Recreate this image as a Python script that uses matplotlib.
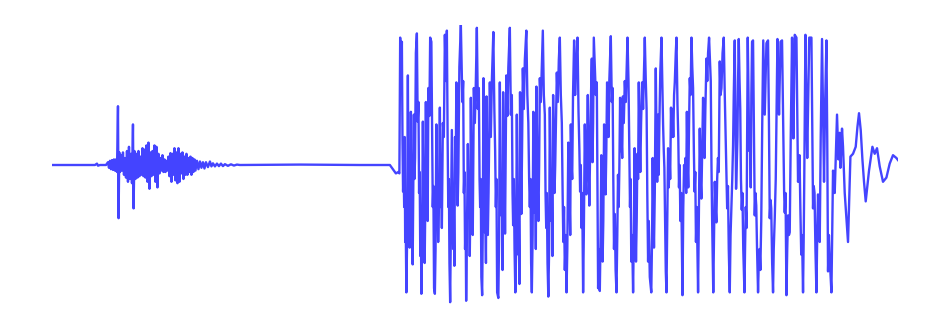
import numpy as np
import matplotlib
matplotlib.use("Agg")
import matplotlib.pyplot as plt

# ---- data (time in arbitrary ticks, amplitude normalised) ----
quiet_t = [52, 95, 97, 98, 100, 106]
quiet_v = [0.0, 0.0, 0.01, -0.005, 0.0, 0.0]

quake_t = [108, 109, 110, 111, 112, 113, 114, 115, 116, 117, 118, 118.6, 119.3, 120, 121, 122, 123, 124, 125,
           126, 127, 128, 129, 130, 131, 132, 133, 133.6, 134.5, 135.5, 136.5, 137.5, 138.5, 139.5, 140.5,
           141.5, 142.5, 143.5, 144.5, 145.5, 146.5, 147.5, 148.5, 149.5, 150.5, 151.5, 152.5, 153.5, 154.5,
           155.5, 156.5, 157.5, 158.5, 159.5, 160.5, 161.5, 162.5, 163.5, 164.5, 165.5, 166.5, 167.5, 168.5,
           169.5, 170.5, 171.5, 172.5, 173.5, 174.5, 175.5, 176.5, 177.5, 178.5, 179.5, 180.5, 181.5, 182.5,
           183.5, 184.5, 185.5, 186.5, 187.5, 188.5, 189.5, 190.5, 191.5, 192.5, 193.5, 194.5, 195.5, 197,
           198.5, 200, 201.5, 203, 204.5, 206, 208, 210, 211.5, 213, 215, 217, 219, 221, 223, 225, 228, 231,
           234, 237, 240, 300, 360, 390]
quake_v = [0.02, -0.02, 0.03, -0.03, 0.035, -0.035, 0.04, -0.04, 0.04, -0.05, 0.42, -0.38, 0.09, -0.05, 0.07,
           -0.04, 0.09, -0.07, 0.05, -0.09, 0.1, -0.12, 0.13, -0.1, 0.08, -0.13, 0.29, -0.31, 0.1, -0.1, 0.08,
           -0.09, 0.1, -0.08, 0.06, -0.07, 0.12, -0.08, 0.11, -0.09, 0.14, -0.12, 0.16, -0.17, 0.09, -0.08,
           0.1, -0.07, 0.14, -0.12, 0.13, -0.16, 0.08, -0.06, 0.05, -0.04, 0.07, -0.05, 0.04, -0.05, 0.03,
           -0.04, 0.06, -0.08, 0.085, -0.12, 0.08, -0.07, 0.12, -0.11, 0.09, -0.13, 0.12, -0.12, 0.08, -0.06,
           0.09, -0.1, 0.06, -0.07, 0.08, -0.07, 0.05, -0.05, 0.06, -0.07, 0.05, -0.05, 0.04, -0.04, 0.03,
           -0.03, 0.025, -0.02, 0.02, -0.025, 0.02, -0.015, 0.025, -0.01, 0.012, -0.01, 0.01, -0.008, 0.01,
           -0.008, 0.006, -0.006, 0.005, -0.004, 0.003, 0.0, 0.003, 0.0, 0.0]

dense_t = [
    393, 396, 398.5, 399.5, 400.3, 401.3, 402, 402.6, 403.2, 403.8, 404.3, 404.8, 405.3, 405.8, 406.5,
    407.2, 408, 408.6, 409.2, 409.8, 410.4, 411, 411.6, 412.2, 412.8, 413.4, 414, 414.6, 415.2, 416, 417, 417.8, 418.6, 419.2, 419.8, 420.4, 421, 421.5,
    422.2, 423, 423.6, 424.2, 424.8, 425.4, 426, 426.6, 427.2, 427.8, 428.5, 429.5, 430.3, 431.5, 432.3, 432.9, 433.5, 434.2, 435,
    435.7, 436.5, 437.1, 437.7, 438.3, 439, 440, 440.7, 441.4, 442, 443, 444, 445, 446, 447, 447.8, 448.4, 449, 449.6, 450.3,
    451, 452, 452.7, 453.3, 453.9, 454.5, 455.2, 455.8, 456.5, 457.2, 457.8, 458.5, 459.5, 461, 462.5, 463.3, 464, 464.6, 465.2, 465.8, 466.3,
    467, 468, 468.7, 469.3, 469.9, 470.5, 471, 471.7, 472.3, 472.9, 474, 475, 476, 477, 478, 479, 479.7, 480.3, 480.9, 481.5, 482.3,
    483, 483.6, 484.3, 484.9, 485.5, 486.1, 486.7, 487.4, 488, 488.7, 490, 491, 492, 493.5, 494.5, 495.3, 496, 496.6, 497.3, 498.5,
    499.3, 500, 500.7, 501.4, 502, 502.7, 503.3, 504, 504.6, 505.2, 506.5, 507.5, 508.5, 510, 511, 512, 512.7, 513.3, 514, 514.7, 515.5,
    516.3, 517, 517.7, 518.4, 519, 519.6, 520.2, 520.9, 521.5, 522.2, 523, 524, 525, 526.5, 527.5, 528.5, 529.3, 530, 530.7, 531.3, 532,
    532.8, 533.5, 534.2, 534.8, 535.5, 536, 536.6, 537.3, 538, 538.6, 539.3, 540, 541, 542, 543, 544, 545, 545.7, 546.4, 547, 547.7, 548.5,
    549.3, 550, 550.7, 551.4, 552, 552.6, 553.3, 554, 554.7, 555.4, 557, 558, 559, 560, 561, 562, 562.8, 563.5, 564.2, 565, 566, 566.7,
    567.5, 568.5, 569.2, 569.8, 570.4, 571, 571.7, 572.4, 573.2, 574.3, 575.3, 576.3, 577.7, 578.7, 579.6, 580.3, 581, 581.7, 582.4, 583.3,
    584, 585, 585.8, 586.5, 587.2, 588, 588.8, 589.5, 590.3, 591.2, 592, 592.7, 593.3, 594, 595, 596, 597, 597.7, 598.3, 599, 600,
    600.8, 601.5, 602.2, 602.8, 603.5, 604.3, 605, 605.8, 606.5, 607.3, 608, 608.8, 609.5, 611, 612, 612.8, 613.5, 614.2, 615, 615.8, 616.7,
    617.5, 618.2, 618.9, 619.6, 620.3, 621, 621.7, 622.4, 623.1, 624, 625, 626, 627.7, 628.7, 629.5, 630.2, 630.8, 631.5, 632.3, 633.3,
    634, 634.8, 635.5, 636.2, 636.9, 637.6, 638.3, 639, 639.8, 640.5, 641.3, 642.3, 643.3, 645, 646, 646.8, 647.5, 648.3, 649, 650, 651.5,
    652.3, 652.9, 653.5, 654.2, 655, 656, 656.7, 657.4, 658.2, 658.9, 659.6, 660.5, 661.7, 662.5, 663.3, 664, 664.6, 665.3, 666, 666.7,
    667.5, 668.3, 669, 669.7, 670.4, 671.2, 672, 672.7, 673.5, 674.3, 675, 676, 676.7, 677.7, 678.5, 679.2, 679.9, 680.6, 681.5, 682.7,
    683.5, 684.3, 685, 685.7, 686.4, 687.1, 687.8, 688.5, 689.3, 690, 690.8, 691.7, 692.5, 693.3, 694.1, 694.8, 695.5, 696.2, 697, 698.3,
    699, 700, 700.8, 701.6, 702.4, 703.3, 704, 704.8, 705.6, 706.7, 707.5, 708.3, 709.3, 710.2, 711, 711.7, 712.4, 713.5,
    714.3, 715, 715.8, 716.6, 717.4, 718.2, 719, 720, 720.8, 721.7, 722.8, 724, 725, 726, 726.7, 727.4, 728.2, 729, 730,
    730.8, 731.7, 732.5, 733.3, 734, 735, 735.7, 736.3, 737, 737.7, 738.3, 739, 739.8, 740.5, 741.2, 742, 742.7, 743.5, 744.7,
    745.3, 746, 746.8, 748, 748.8, 749.5, 750.2, 751, 751.6, 752.3, 753.3, 754.2, 755, 755.7, 756.5, 757.3, 758.3,
    759, 759.8, 760.6, 761.5, 762.5, 763.5, 764.3, 765, 765.8, 766.7, 768.3, 769.2, 770, 770.8, 771.5, 772.4, 773.3,
    774, 775, 776, 777.7, 778.5, 779.3, 780, 780.8, 782.3, 783, 783.7, 784.4, 785, 785.8, 786.7,
    787.5, 788.3, 789.2, 790, 791, 792.3, 793, 793.7, 794.4, 795, 796.7, 797.5, 798.3, 799, 799.8, 800.6, 801.5, 802.3, 803.3,
    804, 804.5, 805.7, 806.5, 807.5, 808.5, 809.5, 811.7, 812.5, 813.3, 814, 814.8, 815.7, 816.7,
    817.5, 818.3, 819.2, 820, 821, 822.3, 823.3, 824.3, 825.3, 826.7, 827.5, 828.3, 829.2, 830, 831.7]
dense_v = [
    -0.03, -0.06, -0.05, -0.06, 0.91, 0.55, 0.88, 0.2, -0.19, -0.05, -0.3, 0.2, -0.55, -0.4, -0.91,
    -0.55, 0.64, -0.25, -0.1, -0.59, -0.3, 0.38, -0.2, -0.05, -0.71, -0.2, 0.36, -0.1, 0.05, 0.8, 0.94, 0.31, 0.45, -0.2, -0.05, -0.65, -0.4, -0.92,
    -0.5, 0.31, -0.2, -0.05, -0.7, -0.3, 0.45, -0.1, 0.1, -0.4, 0.55, 0.35, 0.91, 0.88, 0.2, -0.3, -0.15, -0.88, -0.92,
    -0.6, 0.29, -0.25, -0.1, -0.55, -0.3, 0.41, -0.3, -0.1, -0.45, 0.3, 0.2, 0.93, 0.6, 0.96, 0.16, -0.3, -0.1, -0.7, -0.98,
    -0.5, 0.25, -0.2, -0.6, -0.3, -0.72, 0.2, -0.1, 0.59, -0.1, -0.29, -0.05, 0.7, 1.0, 0.45, 0.6, -0.2, -0.05, -0.6, -0.4, -0.97,
    -0.55, 0.15, -0.3, -0.1, -0.65, -0.3, 0.48, -0.2, 0.0, -0.5, 0.55, 0.3, 0.6, 0.98, 0.4, 0.55, -0.1, -0.3, -0.1, -0.8, -0.93,
    -0.4, 0.62, -0.2, -0.48, -0.3, -0.7, 0.49, -0.1, -0.5, -0.2, 0.59, 0.2, 0.6, 0.95, 0.4, 0.1, -0.3, -0.1, -0.91, -0.95,
    -0.5, 0.59, -0.1, -0.36, -0.1, -0.75, 0.52, -0.1, 0.0, -0.49, 0.64, 0.35, 0.7, 0.98, 0.36, 0.5, -0.2, -0.43, -0.1, -0.6, -0.91,
    -0.6, 0.36, -0.3, -0.64, -0.4, -0.85, 0.52, 0.0, -0.35, 0.1, 0.69, 0.4, 0.75, 0.96, 0.5, 0.3, -0.1, -0.3, -0.1, -0.7, -0.91,
    -0.5, 0.38, -0.1, -0.34, -0.1, -0.6, 0.56, 0.1, -0.2, -0.4, 0.0, 0.62, 0.45, 0.7, 0.96, 0.5, 0.36, -0.2, -0.45, -0.2, -0.7, -0.94,
    -0.6, 0.41, -0.1, -0.4, -0.2, -0.65, 0.5, 0.1, -0.2, 0.0, 0.66, 0.45, 0.75, 0.91, 0.5, 0.3, -0.2, -0.55, -0.3, -0.75, -0.5, -0.91,
    -0.6, 0.16, -0.1, -0.26, -0.5, 0.29, 0.0, -0.1, 0.5, 0.89, 0.5, 0.7, 0.91, 0.38, 0.1, -0.19, 0.0, -0.45, -0.2, -0.91,
    -0.5, 0.29, -0.1, -0.21, 0.1, 0.5, 0.0, -0.29, 0.1, 0.5, 0.76, 0.02, 0.3, 0.91, 0.7, 0.5, 0.59, -0.2, -0.88, -0.6, -0.9,
    -0.5, 0.07, -0.2, -0.69, -0.4, 0.29, 0.0, -0.21, 0.1, 0.59, 0.3, 0.2, 0.6, 0.92, 0.45, 0.55, -0.1, -0.6, -0.35, -0.75, -0.91,
    -0.5, -0.07, -0.3, 0.0, 0.48, 0.1, 0.2, 0.05, 0.49, 0.3, 0.6, 0.45, 0.91, 0.6, 0.14, -0.3, -0.1, -0.69, -0.5, -0.91,
    -0.5, 0.12, -0.3, -0.69, -0.4, 0.08, -0.1, 0.59, 0.2, -0.05, 0.3, 0.59, 0.4, 0.91, 0.6, 0.4, -0.2, -0.69, -0.4, -0.8, -0.91,
    -0.5, 0.05, -0.3, -0.59, -0.2, 0.69, 0.2, -0.12, 0.36, -0.07, 0.3, 0.66, 0.91, 0.6, 0.29, 0.1, -0.02, -0.4, -0.76, -0.91,
    -0.4, 0.12, -0.16, 0.07, -0.1, 0.41, 0.2, 0.4, 0.2, 0.5, 0.59, 0.8, 0.91, 0.43, 0.2, -0.16, 0.0, -0.4, -0.2, -0.93,
    -0.3, 0.0, -0.12, 0.05, -0.2, 0.38, 0.0, -0.16, 0.3, 0.62, 0.5, 0.91, 0.7, 0.55, 0.1, -0.19, -0.05, -0.55, -0.3, -0.91,
    -0.4, 0.26, -0.1, -0.24, 0.1, 0.48, 0.2, 0.05, 0.4, 0.76, 0.6, 0.8, 0.91, 0.75, 0.6, 0.0, -0.41, -0.91,
    -0.5, -0.12, -0.3, -0.41, -0.1, 0.05, -0.05, 0.74, 0.5, 0.55, 0.8, 0.91, 0.5, 0.16, -0.1, -0.31, -0.15, -0.6, -0.91,
    -0.5, -0.29, -0.1, 0.14, 0.5, 0.89, 0.3, -0.17, 0.0, 0.2, 0.6, 0.9, 0.6, 0.4, -0.1, -0.32, -0.2, -0.6, -0.91,
    -0.6, -0.3, -0.45, 0.91, 0.5, 0.1, 0.3, -0.16, 0.5, 0.88, 0.89, 0.2, -0.36, -0.2, -0.29, -0.6, -0.91,
    -0.7, -0.6, -0.75, -0.4, 0.3, 0.89, 0.6, 0.36, 0.6, 0.87, 0.89, 0.3, -0.38, -0.25, -0.31, -0.7, -0.91,
    -0.6, -0.38, -0.1, 0.9, 0.6, 0.36, 0.6, 0.88, 0.89, 0.5, 0.16, -0.2, -0.34, -0.2, -0.93,
    -0.6, -0.36, -0.5, -0.48, 0.2, 0.91, 0.5, 0.19, 0.6, 0.93, 0.91, 0.4, -0.12, -0.05, 0.07, -0.3, -0.64, -0.5, -0.91,
    -0.5, -0.12, 0.93, 0.5, 0.05, 0.5, 0.91, 0.91, 0.3, -0.31, -0.15, -0.2, -0.6, -0.91,
    -0.5, -0.21, -0.4, -0.55, 0.2, 0.9, 0.4, -0.12, 0.4, 0.89, 0.2, -0.76, -0.5, -0.67, -0.91]

tail_t = [833.3, 835, 837.3, 838.7, 840, 840.7, 842.3, 843.3, 845, 848.3, 850.7, 853.3, 856, 857.7,
          859.3, 861, 862.7, 864.3, 866, 869.3, 872.7, 875, 877.3, 880, 883.3, 886.7, 890, 893.3, 896.7, 898.3]
tail_v = [-0.04, -0.2, 0.36, 0.04, 0.23, -0.02, 0.26, 0.13, -0.2, -0.55, 0.06, 0.08, 0.13, 0.27,
          0.37, 0.25, 0.04, -0.12, -0.26, -0.04, 0.13, 0.08, 0.12, -0.01, -0.12, -0.09, 0.01, 0.07, 0.05, 0.035]

t = np.concatenate([quiet_t, quake_t, dense_t, tail_t])
v = np.concatenate([quiet_v, quake_v, dense_v, tail_v])

fig = plt.figure(figsize=(9.5, 3.28), dpi=100)
ax = fig.add_axes([52 / 950, 23 / 328, 846 / 950, 280 / 328])
ax.plot(t, v, color="#4444ff", lw=1.7, solid_joinstyle="round")
ax.set_xlim(t.min(), t.max())
ax.set_ylim(-1, 1)
ax.axis("off")
fig.savefig("out.png", dpi=100)
